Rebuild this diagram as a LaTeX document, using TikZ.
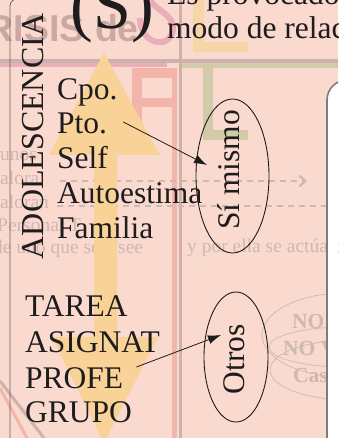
\documentclass[tikz,border=0pt]{standalone}
\usepackage{fontspec}
\setmainfont{Liberation Serif}
\newfontfamily\bannerfont{Liberation Sans}
\usetikzlibrary{shapes.geometric,arrows.meta}

\definecolor{bgpink}{RGB}{250,218,207}
\definecolor{ghost}{RGB}{206,184,178}
\definecolor{ghostdark}{RGB}{204,168,162}
\definecolor{bandgray}{RGB}{206,176,172}
\definecolor{barpink}{RGB}{243,180,170}
\definecolor{linepink}{RGB}{233,174,184}
\definecolor{khaki}{RGB}{210,203,170}
\definecolor{sand}{RGB}{246,214,166}
\definecolor{arrowfill}{RGB}{248,210,150}
\definecolor{ink}{RGB}{30,28,28}
\definecolor{framegray}{RGB}{105,98,98}
\definecolor{panelgray}{RGB}{128,124,124}

\tikzset{
  item/.style={anchor=base west, inner sep=0pt, text=ink,
    font=\fontsize{31.5}{34}\selectfont},
  tag/.style={rotate=90, anchor=base, inner sep=0pt, text=ink,
    font=\fontsize{31.5}{34}\selectfont},
  faint/.style={anchor=base west, inner sep=0pt, text=ghost,
    font=\fontsize{19.5}{22}\selectfont},
  faintbold/.style={faint, font=\bfseries\fontsize{21.5}{24}\selectfont},
  ring/.style={draw=ink, ellipse, line width=0.9pt, inner sep=0pt},
  pointer/.style={draw=ink, line width=0.8pt, -{Latex[length=13pt,width=9pt]}},
  ghostline/.style={draw=ghost, line width=2.2pt, dash pattern=on 6pt off 5pt},
}

\begin{document}
\begin{tikzpicture}[x=1pt,y=-1pt]
  \useasboundingbox (0,0) rectangle (338,438);
  \clip (0,0) rectangle (338,438);
  \fill[bgpink] (0,0) rectangle (338,438);

  % letters of the page behind
  \draw[linepink, line width=6pt]
    (140,18) .. controls (140,45) and (170,50) .. (173,30)
    .. controls (175,15) and (155,10) .. (150,0);
  \fill[sand] (193,-2) rectangle (204,52);
  \fill[sand] (193,42) rectangle (248,52);
  \fill[bandgray] (0,59.5) rectangle (338,63);
  \fill[linepink] (0,63) rectangle (167,67.5);
  \fill[khaki] (180,63.5) rectangle (338,68);
  \fill[barpink] (132,68) rectangle (142,150);
  \fill[barpink] (132,68) rectangle (177,78);
  \fill[barpink] (132,98) rectangle (177,107);
  \fill[barpink] (172,68) rectangle (177,438);
  \fill[bandgray] (179,0) rectangle (182,438);
  \fill[khaki] (203,68) rectangle (213,140);
  \fill[khaki] (203,130) rectangle (248,140);
  \draw[bandgray, line width=3pt] (0,381) -- (44,438);
  \draw[barpink, line width=3pt] (0,388) -- (27,438);

  \node[anchor=base east, inner sep=0pt, text=ghostdark,
    font=\bannerfont\bfseries\fontsize{37.5}{40}\selectfont] (crisis) at (139,42) {RISIS de};

  \node[faint] (unos) at (0,161) {unos};
  \node[faint] (alora) at (0,185) {alora};
  \node[faint] (aloran) at (0,208) {aloran};
  \node[faint] (personal) at (-3,231) {Personal T};
  \node[faint] (deuno) at (-7,253) {de uno que se};
  \node[faint] (see) at (118,253) {see};
  \node[faint] (porella) at (187,252) {y por ella se actúa c};

  \coordinate (dashA) at (60,181);
  \coordinate (dashB) at (307,181);
  \coordinate (dashC) at (57,206);
  \coordinate (dashD) at (338,206);
  \draw[ghostline, -{Straight Barb[length=6pt,width=11pt]}] (dashA) -- (dashB);
  \draw[ghostline, line width=1.6pt] (dashC) -- (dashD);

  \node[faintbold] (no) at (292,328) {NO};
  \node[faintbold] (nov) at (283,355) {NO V};
  \node[faintbold] (cas) at (293,382) {Cas};
  \draw[ghost, line width=0.7pt] (345,335) ellipse [x radius=83, y radius=42];
  \draw[ghost, line width=0.7pt] (345,347) ellipse [x radius=76, y radius=20];
  \draw[ghost, line width=0.7pt] (350,370) ellipse [x radius=80, y radius=30];

  \draw[panelgray, fill=white, line width=1.6pt, rounded corners=20pt]
    (327,80) rectangle (430,480);

  % two way arrow
  \fill[arrowfill] (104,53) -- (160,155) -- (117,155) -- (117,337)
    -- (158,337) -- (104,443) -- (52,337) -- (94,337) -- (94,155)
    -- (49,155) -- cycle;

  \draw[framegray, line width=0.8pt, rounded corners=7pt]
    (10,445) -- (10,-1) -- (40,-1);

  \node[tag, font=\fontsize{32}{34}\selectfont] (adolescencia) at (43,136.5) {ADOLESCENCIA};
  \node[anchor=base, inner sep=0pt, text=ink,
    font=\fontsize{68}{70}\selectfont] (sigla) at (112.5,29) {(S)};
  \node[item] (provocado) at (167,4.5) {Es provocado};
  \node[item] (modo) at (167,39) {modo de relac};

  \node[item] (cpo) at (57,100) {Cpo.};
  \node[item] (pto) at (57,134) {Pto.};
  \node[item] (self) at (57,168) {Self};
  \node[item] (autoestima) at (57,203) {Autoestima};
  \node[item] (familia) at (57,238) {Familia};
  \node[item] (tarea) at (25,316) {TAREA};
  \node[item] (asignat) at (25,352) {ASIGNAT};
  \node[item] (profe) at (25,388) {PROFE};
  \node[item] (grupo) at (25,422) {GRUPO};

  \node[ring, minimum width=73pt, minimum height=154pt] (simismoring) at (232.5,176) {};
  \node[tag] (simismo) at (239,170) {Sí mismo};
  \node[ring, minimum width=64pt, minimum height=130pt] (otrosring) at (236,357) {};
  \node[tag] (otros) at (244,359) {Otros};

  \draw[pointer] ([shift={(16,-12)}]pto.base east) -- ([shift={(-25.5,-11)}]simismoring.center);
  \draw[pointer] ([shift={(13,-21)}]profe.base east) -- ([shift={(-15,-22)}]otrosring.center);
\end{tikzpicture}
\end{document}
